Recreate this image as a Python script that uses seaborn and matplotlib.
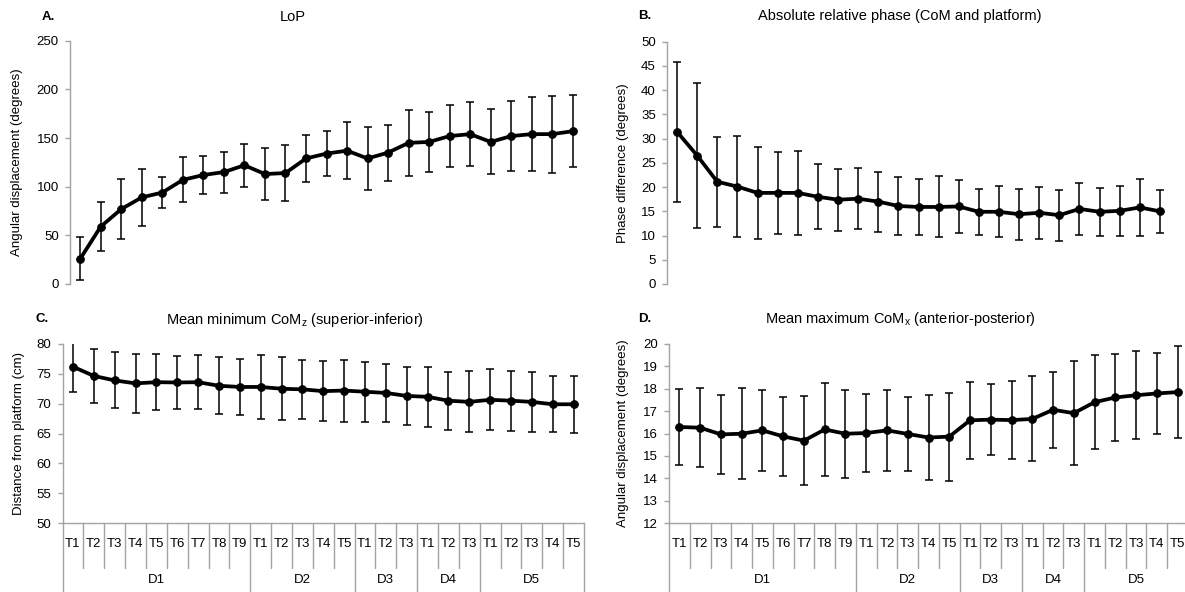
import numpy as np
import pandas as pd
import matplotlib
matplotlib.use("Agg")
import matplotlib.pyplot as plt
import seaborn as sns

# Session structure: days and the trials recorded on each day
days = ["D1", "D2", "D3", "D4", "D5"]
trials_per_day = [9, 5, 3, 3, 5]
trial_labels = [f"T{t + 1}" for n in trials_per_day for t in range(n)]

# A. Length of path (LoP), mean and SD
lop_mean = [26, 59, 77, 89, 94, 107, 112, 115, 122, 113, 114, 129, 134, 137,
            129, 135, 145, 146, 152, 154, 146, 152, 154, 154, 157]
lop_sd = [22, 25, 31, 29, 15.5, 23, 20, 21, 22, 27, 28.5, 24, 23.5, 29,
          32, 28.7, 33.6, 31, 31.7, 32.7, 33.4, 36, 38, 39.5, 37]

# B. Absolute relative phase between CoM and platform
phase_mean = [31.4, 26.5, 21.1, 20.1, 18.8, 18.8, 18.8, 18.0, 17.4, 17.6,
              17.0, 16.1, 15.9, 15.9, 16.0, 14.9, 14.9, 14.4, 14.7, 14.2,
              15.5, 14.9, 15.1, 15.8, 15.0]
phase_sd = [14.5, 15.0, 9.3, 10.5, 9.5, 8.4, 8.7, 6.7, 6.4, 6.3, 6.2, 6.0,
            5.8, 6.3, 5.5, 4.8, 5.3, 5.3, 5.4, 5.3, 5.3, 5.0, 5.2, 5.8, 4.5]

# C. Mean minimum CoM_z (superior-inferior)
comz_mean = [76.2, 74.65, 73.9, 73.4, 73.6, 73.55, 73.6, 73.0, 72.8, 72.8,
             72.5, 72.4, 72.1, 72.2, 72.0, 71.8, 71.3, 71.15, 70.5, 70.3,
             70.65, 70.5, 70.3, 69.9, 69.9]
comz_sd = [4.3, 4.55, 4.7, 4.9, 4.7, 4.5, 4.55, 4.75, 4.65, 5.3, 5.3, 5.0,
           5.0, 5.2, 5.05, 4.9, 4.85, 5.0, 4.85, 5.1, 5.1, 5.0, 5.0, 4.7, 4.75]

# D. Mean maximum CoM_x (anterior-posterior)
comx_mean = [16.29, 16.26, 15.96, 15.99, 16.14, 15.87, 15.68, 16.18, 15.99,
             16.02, 16.14, 15.98, 15.82, 15.86, 16.59, 16.62, 16.60, 16.65,
             17.06, 16.91, 17.40, 17.61, 17.71, 17.79, 17.85]
comx_sd = [1.70, 1.77, 1.77, 2.04, 1.82, 1.78, 2.00, 2.08, 1.96, 1.74, 1.80,
           1.67, 1.88, 1.97, 1.72, 1.60, 1.76, 1.90, 1.70, 2.33, 2.10, 1.93,
           1.96, 1.81, 2.06]

sns.set_theme(style="white")
plt.rcParams["font.family"] = ["Liberation Sans", "DejaVu Sans"]
plt.rcParams["mathtext.fontset"] = "custom"
plt.rcParams["mathtext.rm"] = "Liberation Sans"
plt.rcParams["mathtext.it"] = "Liberation Sans"

GRAY = "#A3A3A3"
FS = 9.5
TITLE_FS = 10.5

W, H = 1185, 592
fig = plt.figure(figsize=(W / 100, H / 100), dpi=100)


def add_axes_px(left, top, right, bottom):
    return fig.add_axes([left / W, 1 - bottom / H, (right - left) / W, (bottom - top) / H])


def draw_panel(ax, mean, sd, ylim, step, ylabel):
    n = len(mean)
    df = pd.DataFrame({"pos": np.arange(n), "value": mean, "sd": sd})
    ax.errorbar(df["pos"], df["value"], yerr=df["sd"], fmt="none",
                ecolor="black", elinewidth=1.1, capsize=2.6, capthick=1.1, zorder=2)
    sns.lineplot(data=df, x="pos", y="value", ax=ax, color="black", lw=2.7,
                 marker="o", markersize=5.5, markeredgecolor="black", zorder=3)
    ax.set_xlim(-0.5, n - 0.5)
    ax.set_ylim(*ylim)
    ax.set_yticks(np.arange(ylim[0], ylim[1] + step / 2, step))
    ax.set_xticks([])
    ax.set_xlabel("")
    ax.set_ylabel(ylabel, fontsize=FS, color="black")
    ax.yaxis.label.set_va("center")
    for side in ("top", "right", "bottom"):
        ax.spines[side].set_visible(False)
    ax.spines["left"].set_color(GRAY)
    ax.spines["left"].set_linewidth(1.0)
    ax.tick_params(axis="y", left=True, length=3.5, width=1.0, color=GRAY,
                   labelsize=FS, labelcolor="black", pad=4.5)


def draw_category_axis(ax):
    trans = ax.get_xaxis_transform()
    ax.spines["bottom"].set_visible(True)
    ax.spines["bottom"].set_color(GRAY)
    ax.spines["bottom"].set_linewidth(1.0)
    group_edges = set(np.cumsum([0] + trials_per_day))
    row_bottom, fig_bottom = -0.25, -0.45
    for k in range(len(trial_labels) + 1):
        y_end = fig_bottom if k in group_edges else row_bottom
        ax.plot([k - 0.5, k - 0.5], [0, y_end], transform=trans, color=GRAY,
                lw=1.0, clip_on=False)
    for i, lab in enumerate(trial_labels):
        ax.text(i, -0.117, lab, transform=trans, ha="center", va="center",
                fontsize=FS, color="black")
    starts = np.cumsum([0] + trials_per_day[:-1])
    for d, s, n in zip(days, starts, trials_per_day):
        ax.text(s + (n - 1) / 2, -0.316, d, transform=trans, ha="center",
                va="center", fontsize=FS, color="black")


axA = add_axes_px(70, 40.7, 583, 284)
draw_panel(axA, lop_mean, lop_sd, (0, 250), 50, "Angular displacement (degrees)")
axA.yaxis.set_label_coords(-0.103, 0.5)

axB = add_axes_px(667, 41.7, 1170, 284)
draw_panel(axB, phase_mean, phase_sd, (0, 50), 5, "Phase difference (degrees)")
axB.yaxis.set_label_coords(-0.0875, 0.5)

axC = add_axes_px(62.5, 344, 584, 523)
draw_panel(axC, comz_mean, comz_sd, (50, 80), 5, "Distance from platform (cm)")
axC.yaxis.set_label_coords(-0.084, 0.5)
draw_category_axis(axC)

axD = add_axes_px(669, 344, 1188, 523)
draw_panel(axD, comx_mean, comx_sd, (12, 20), 1, "Angular displacement (degrees)")
axD.yaxis.set_label_coords(-0.089, 0.5)
draw_category_axis(axD)

titles = [
    ("A.", 42, 17, "LoP", 293, 17),
    ("B.", 638, 16, "Absolute relative phase (CoM and platform)", 900, 16),
    ("C.", 35, 319, r"Mean minimum CoM$_{\mathregular{z}}$ (superior-inferior)", 295, 320),
    ("D.", 638, 319, r"Mean maximum CoM$_{\mathregular{x}}$ (anterior-posterior)", 900, 319),
]
for tag, tx, ty, title, cx, cy in titles:
    fig.text(tx / W, 1 - ty / H, tag, ha="left", va="center", fontsize=FS,
             fontweight="bold", color="black")
    fig.text(cx / W, 1 - cy / H, title, ha="center", va="center", fontsize=TITLE_FS,
             color="black")

fig.savefig("out.png", dpi=100, facecolor="white")
